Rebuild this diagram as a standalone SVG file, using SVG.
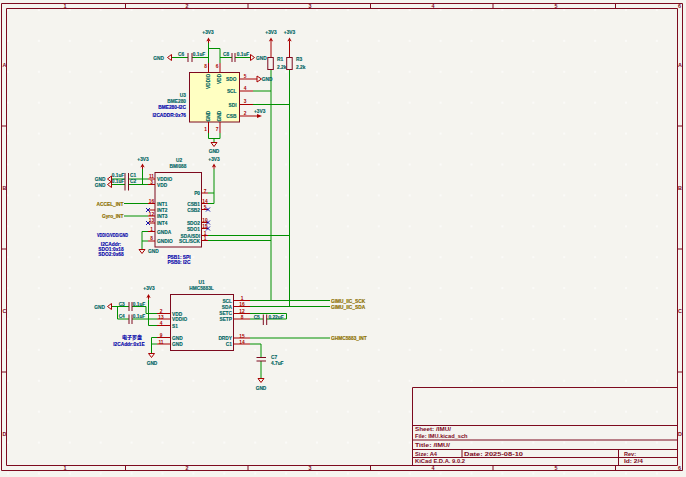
<svg xmlns="http://www.w3.org/2000/svg" width="686" height="477" viewBox="0 0 686 477">
<style>
text{font-family:"Liberation Sans",Arial,sans-serif;font-size:4.8px;font-weight:bold}
.cjk{font-family:"Noto Sans CJK SC",sans-serif}
.t{fill:#00645f;stroke:#00645f;stroke-width:.12}.n{fill:#a80000;text-anchor:middle;font-size:4.8px}.b{fill:#0000a8;stroke:#0000a8;stroke-width:.12}.g{fill:#8c7000;stroke:#8c7000;stroke-width:.15}
.f{fill:#7d0a1e;font-size:5.4px}.m{text-anchor:middle}.e{text-anchor:end}
.w{fill:none;stroke:#009000;stroke-width:1}
.p{fill:none;stroke:#a80000;stroke-width:1}
.s{fill:none;stroke:#7d0a1e;stroke-width:1}
.y{fill:#ffffc2;stroke:#7d0a1e;stroke-width:1}
.x{fill:none;stroke:#0000a8;stroke-width:.9}
</style>
<defs>
<pattern id="dots" x="7" y="9" width="30.9" height="30.9" patternUnits="userSpaceOnUse">
<path d="M1,0V2M0,1H2" stroke="#ffffff" stroke-width=".7" fill="none"/>
</pattern>
<g id="pwr"><path class="p" d="M0,0V-2.500"/><path d="M0,-5.500L-2.200,-1.500L0,-2.500L2.200,-1.500Z" fill="#a80000"/></g>
<g id="gnd"><path class="p" d="M0,0V.5M-3,.5H3L0,4.500Z"/></g>
</defs>
<rect width="686" height="477" fill="#f5f4ef"/>
<rect width="686" height="477" fill="url(#dots)"/>
<g id="frame">
<path class="s" d="M1.500,3.500H682.500V470.500H1.500ZM6.500,8.500H677.500V465.500H6.500Z"/>
<path class="s" d="M125.500,3.500V8.500M248,3.500V8.500M370.500,3.500V8.500M493,3.500V8.500M615.500,3.500V8.500M125.500,465.500V470.500M248,465.500V470.500M370.500,465.500V470.500M493,465.500V470.500M615.500,465.500V470.500M1.500,126H6.500M1.500,249H6.500M1.500,372H6.500M677.500,126H682.500M677.500,249H682.500M677.500,372H682.500"/>
<text class="f m" x="65" y="8">1</text><text class="f m" x="187" y="8">2</text><text class="f m" x="310" y="8">3</text><text class="f m" x="433" y="8">4</text><text class="f m" x="556" y="8">5</text><text class="f m" x="679.500" y="8">6</text>
<text class="f m" x="65" y="470">1</text><text class="f m" x="187" y="470">2</text><text class="f m" x="310" y="470">3</text><text class="f m" x="433" y="470">4</text><text class="f m" x="556" y="470">5</text><text class="f m" x="679.500" y="470">6</text>
<text class="f m" x="4.500" y="67">A</text><text class="f m" x="4.500" y="190">B</text><text class="f m" x="4.500" y="313">C</text><text class="f m" x="4.500" y="436">D</text>
<text class="f m" x="680" y="67">A</text><text class="f m" x="680" y="190">B</text><text class="f m" x="680" y="313">C</text><text class="f m" x="680" y="436">D</text>
</g>
<g id="title-block">
<path class="s" d="M412.500,387.500H677.500M412.500,387.500V465.500M412.500,425.500H677.500M412.500,440H677.500M412.500,449.500H677.500M412.500,457.500H677.500M462,449.500V457.500M618.500,449.500V465.500"/>
<text class="f" x="415" y="431" textLength="36" lengthAdjust="spacingAndGlyphs">Sheet: /IMU/</text>
<text class="f" x="415" y="438" textLength="52.500" lengthAdjust="spacingAndGlyphs">File: IMU.kicad_sch</text>
<text class="f" x="415" y="446.500" textLength="35" lengthAdjust="spacingAndGlyphs">Title: /IMU/</text>
<text class="f" x="415" y="455.500" textLength="22" lengthAdjust="spacingAndGlyphs">Size: A4</text>
<text class="f" x="464" y="455.500" textLength="59" lengthAdjust="spacingAndGlyphs">Date: 2025-08-10</text>
<text class="f" x="624" y="455.500" textLength="12" lengthAdjust="spacingAndGlyphs">Rev:</text>
<text class="f" x="415" y="463" textLength="50" lengthAdjust="spacingAndGlyphs">KiCad E.D.A. 9.0.2</text>
<text class="f" x="624" y="463" textLength="19" lengthAdjust="spacingAndGlyphs">Id: 2/4</text>
</g>
<g id="connectors">
<path class="w" d="M208.500,43V63M208.500,48.500H220V63M172,57.500H188M192,57.500H208.500M220,57.500H232M235,57.500H250"/>
<path class="w" d="M253,91H271M253,104.500H289.500M271,69.500V300.500M289.500,69.500V306.500"/>
<path class="w" d="M208.500,133V138.500H220V133M214,138.500V142"/>
<path class="w" d="M112,179H125M112,184.500H125M128.500,179H148M128.500,184.500H148M142.500,169V184.500"/>
<path class="w" d="M124,203.500H148M124,216H148M148,231.500H142V249M148,241H142"/>
<path class="w" d="M214,169V203.500H208M214,193H208M208,235.500H289.500M208,240.500H271"/>
<path class="w" d="M112,306.500H129M117.500,306.500V319H129M132,306.500H146V313.500H157M132,319H157M148.500,299.500V325.500H157M157,337.500H151.500V353M157,344H151.500"/>
<path class="w" d="M250,300.500H330M250,306.500H330M250,313.500H286.500V319H266.500M263,319H250M250,338H330M250,344H261V357.500M261,361V378"/>
</g>
<g id="U3">
<rect class="y" x="189.500" y="72.500" width="50" height="49.500"/>
<path class="p" d="M208.500,63V72.500M220,63V72.500M208.500,122V133M220,122V133M239.500,79H257M239.500,91H253M239.500,104.500H253M239.500,116H257"/>
<path d="M262,116L257,114V118Z" fill="#a80000"/>
<path class="p" d="M257,76V82L261.500,79Z"/>
<text class="n" x="205.700" y="68">8</text><text class="n" x="217" y="68">6</text><text class="n" x="205.700" y="130.500">1</text><text class="n" x="217" y="130.500">7</text>
<text class="n" x="245" y="78">5</text><text class="n" x="245" y="90">4</text><text class="n" x="245" y="103">3</text><text class="n" x="245" y="115">2</text>
<text class="t e" x="236.500" y="81">SDO</text><text class="t e" x="236.500" y="93">SCL</text><text class="t e" x="236.500" y="106.500">SDI</text><text class="t e" x="236.500" y="118">CSB</text>
<text class="t" transform="translate(210,89) rotate(-90)">VDDIO</text><text class="t" transform="translate(221.300,84) rotate(-90)">VDD</text>
<text class="t" transform="translate(210,121.500) rotate(-90)">GND</text><text class="t" transform="translate(221.300,121.500) rotate(-90)">GND</text>
<text class="t e" x="186" y="97">U3</text><text class="t e" x="186" y="102.500">BME280</text>
<text class="b e" x="186" y="109">BME280-I2C</text><text class="b e" x="186" y="116.500">I2CADDR:0x76</text>
<text class="t" x="254" y="113">+3V3</text><text class="t" x="261.700" y="81">GND</text>
</g>
<g id="C6"><path class="s" d="M188,53V62M192,53V62"/><text class="t m" x="181" y="56">C6</text><text class="t m" x="199" y="56">0.1uF</text></g>
<g id="C8"><path class="s" d="M232,53V62M235,53V62"/><text class="t m" x="226" y="56">C8</text><text class="t m" x="243" y="56">0.1uF</text></g>
<g id="P1"><use href="#pwr" x="208.500" y="43"/><text class="t m" x="208" y="34">+3V3</text></g>
<g id="G1"><use href="#gnd" transform="translate(172,57.500) rotate(90)"/><text class="t e" x="164" y="59.500">GND</text></g>
<g id="G2"><use href="#gnd" transform="translate(250,57.500) rotate(-90)"/><text class="t" x="256" y="59.500">GND</text></g>
<g id="G3"><use href="#gnd" x="214" y="142"/><text class="t m" x="214" y="153">GND</text></g>
<g id="R1"><use href="#pwr" x="271" y="43"/><path class="p" d="M271,43V57"/><rect class="s" x="267.800" y="57.500" width="5.500" height="12"/><text class="t m" x="271" y="34">+3V3</text><text class="t" x="277" y="61">R1</text><text class="t" x="277" y="69">2.2k</text></g>
<g id="R3"><use href="#pwr" x="289.500" y="43"/><path class="p" d="M289.500,43V57"/><rect class="s" x="286.700" y="57.500" width="5.500" height="12"/><text class="t m" x="289.500" y="34">+3V3</text><text class="t" x="296" y="61">R3</text><text class="t" x="296" y="69">2.2k</text></g>
<g id="U2">
<rect class="s" x="155" y="172.500" width="46.500" height="74.500"/>
<path class="p" d="M148,179H155M148,184.500H155M148,203.500H155M148,210H155M148,216H155M148,223H155M148,231.500H155M148,241H155M201.500,193H208M201.500,203.500H208M201.500,209.500H208M201.500,222.500H208M201.500,228.500H208M201.500,235.500H208M201.500,240.500H208"/>
<path class="x" d="M146,208L150,212M150,208L146,212M146,221L150,225M150,221L146,225M206,207.500L210,211.500M210,207.500L206,211.500M206,220.500L210,224.500M210,220.500L206,224.500M206,226.500L210,230.500M210,226.500L206,230.500"/>
<text class="n" x="151.500" y="178">11</text><text class="n" x="151.500" y="184">3</text><text class="n" x="151.500" y="203">16</text><text class="n" x="151.500" y="215.500">12</text><text class="n" x="151.500" y="222">13</text><text class="n" x="151.500" y="231">1</text><text class="n" x="151.500" y="240">8</text>
<text class="n" x="205" y="192.500">7</text><text class="n" x="205" y="203">14</text><text class="n" x="205" y="209">5</text><text class="n" x="205" y="222">10</text><text class="n" x="205" y="228">15</text><text class="n" x="205" y="235">1</text><text class="n" x="205" y="240">1</text>
<text class="t" x="157" y="181">VDDIO</text><text class="t" x="157" y="186.500">VDD</text><text class="t" x="157" y="205.500">INT1</text><text class="t" x="157" y="212">INT2</text><text class="t" x="157" y="218">INT3</text><text class="t" x="157" y="225">INT4</text><text class="t" x="157" y="233.500">GNDA</text><text class="t" x="157" y="243">GNDIO</text>
<text class="t e" x="200" y="195">P0</text><text class="t e" x="200" y="205.500">CSB1</text><text class="t e" x="200" y="211.500">CSB2</text><text class="t e" x="200" y="224.500">SDO2</text><text class="t e" x="200" y="230.500">SDO1</text><text class="t e" x="200" y="237.500">SDA/SDI</text><text class="t e" x="200" y="243">SCL/SCK</text>
<text class="t m" x="179" y="162">U2</text><text class="t m" x="178" y="168">BMI088</text>
<text class="b m" x="179" y="258.500">PSB1: SPI</text><text class="b m" x="179" y="264">PSB0: I2C</text>
<text class="b m" x="112.500" y="237" textLength="31" lengthAdjust="spacingAndGlyphs">VDDIO/VDD/GND</text><text class="b m" x="111" y="245.500">I2CAddr:</text><text class="b m" x="111" y="250.500">SDO1:0x18</text><text class="b m" x="111" y="256">SDO2:0x68</text>
</g>
<g id="C1"><path class="s" d="M125,173V182M128.500,173V182"/><text class="t m" x="118" y="177">0.1uF</text><text class="t m" x="133" y="177">C1</text></g>
<g id="C2"><path class="s" d="M125,182V190.500M128.500,182V190.500"/><text class="t m" x="118" y="183">0.1uF</text><text class="t m" x="133" y="183">C2</text></g>
<g id="P2"><use href="#pwr" x="142.500" y="169"/><text class="t m" x="143" y="161">+3V3</text></g>
<g id="P3"><use href="#pwr" x="214" y="169"/><text class="t m" x="214" y="161">+3V3</text></g>
<g id="G4"><use href="#gnd" transform="translate(112,179) rotate(90)"/><text class="t e" x="105.500" y="181">GND</text></g>
<g id="G5"><use href="#gnd" transform="translate(112,184.500) rotate(90)"/><text class="t e" x="105.500" y="187">GND</text></g>
<g id="G6"><use href="#gnd" x="142" y="249"/><text class="t" x="148" y="253">GND</text></g>
<g id="ACCEL_INT"><text class="g e" x="123.500" y="205.500">ACCEL_INT</text></g>
<g id="Gyro_INT"><text class="g e" x="123.500" y="218">Gyro_INT</text></g>
<g id="U1">
<rect class="s" x="170.500" y="294.500" width="63" height="56"/>
<path class="p" d="M157,313.500H170.500M157,319H170.500M157,325.500H170.500M157,337.500H170.500M157,344H170.500M233.500,300.500H250M233.500,306.500H250M233.500,313.500H250M233.500,319H250M233.500,338H250M233.500,344H250"/>
<text class="n" x="161" y="312.500">2</text><text class="n" x="161" y="318.500">13</text><text class="n" x="161" y="324.500">4</text><text class="n" x="161" y="337">9</text><text class="n" x="161" y="343.500">11</text>
<text class="n" x="242" y="300">1</text><text class="n" x="242" y="306">16</text><text class="n" x="242" y="312.500">12</text><text class="n" x="242" y="318.500">8</text><text class="n" x="242" y="337.500">15</text><text class="n" x="242" y="343.500">14</text>
<text class="t" x="172" y="315.500">VDD</text><text class="t" x="172" y="321">VDDIO</text><text class="t" x="172" y="327.500">S1</text><text class="t" x="172" y="339.500">GND</text><text class="t" x="172" y="346">GND</text>
<text class="t e" x="232" y="302.500">SCL</text><text class="t e" x="232" y="308.500">SDA</text><text class="t e" x="232" y="315">SETC</text><text class="t e" x="232" y="321">SETP</text><text class="t e" x="232" y="340">DRDY</text><text class="t e" x="232" y="346">C1</text>
<text class="t m" x="201.500" y="283.500">U1</text><text class="t m" x="201.500" y="289.500">HMC5883L</text>
<text class="b m cjk" x="132" y="338.500" style="font-size:5px">电子罗盘</text><text class="b m" x="129" y="346">I2CAddr:0x1E</text>
</g>
<g id="C3"><path class="s" d="M129,302V311M132,302V311"/><text class="t m" x="121.700" y="305.500">C3</text><text class="t m" x="139" y="305.500">0.1uF</text></g>
<g id="C4"><path class="s" d="M129,314.500V324M132,314.500V324"/><text class="t m" x="121.700" y="318">C4</text><text class="t m" x="139" y="318">0.1uF</text></g>
<g id="C5"><path class="s" d="M263.300,314.500V325M266.700,314.500V325"/><text class="t m" x="256.700" y="319">C5</text><text class="t m" x="276" y="319">0.22uF</text></g>
<g id="C7"><path class="s" d="M256.500,357.500H266M256.500,361H266"/><text class="t" x="271" y="358.500">C7</text><text class="t" x="271" y="365">4.7uF</text></g>
<g id="P4"><use href="#pwr" x="148.500" y="299.500"/><text class="t m" x="149" y="290">+3V3</text></g>
<g id="G7"><use href="#gnd" transform="translate(112,306.500) rotate(90)"/><text class="t e" x="105" y="309">GND</text></g>
<g id="G8"><use href="#gnd" x="151.500" y="353"/><text class="t m" x="152" y="365">GND</text></g>
<g id="G9"><use href="#gnd" x="261" y="378"/><text class="t m" x="261" y="389.500">GND</text></g>
<g id="L1"><text class="g" x="331" y="302.500">GIMU_IIC_SCK</text></g>
<g id="L2"><text class="g" x="331" y="308.500">GIMU_IIC_SDA</text></g>
<g id="L3"><text class="g" x="331" y="340">GHMC5883_INT</text></g>
</svg>
